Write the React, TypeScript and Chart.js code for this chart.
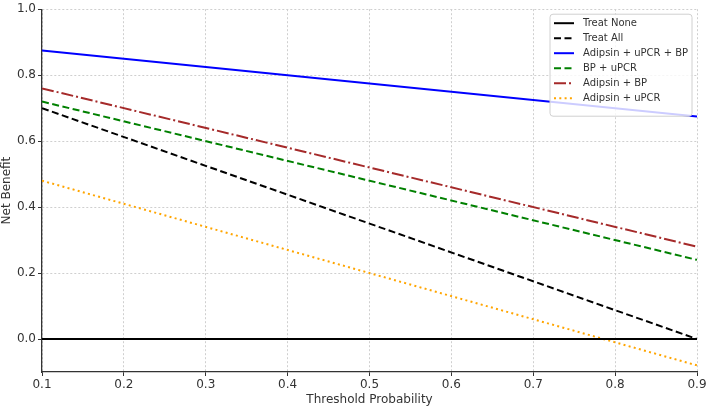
import React, { useEffect, useRef } from "react";
import { Chart, registerables } from "chart.js";

Chart.register(...registerables);

// Threshold probabilities at the ends of each decision curve
const thresholds = [0.1, 0.9];

// Net benefit of each strategy at those thresholds
const treatNone = [0.0, 0.0];
const treatAll = [0.7, 0.0];
const adipsinUpcrBp = [0.875, 0.675];
const bpUpcr = [0.72, 0.24];
const adipsinBp = [0.76, 0.28];
const adipsinUpcr = [0.48, -0.08];

const xTicks = [0.1, 0.2, 0.3, 0.4, 0.5, 0.6, 0.7, 0.8, 0.9];
const yTicks = [0.0, 0.2, 0.4, 0.6, 0.8, 1.0];

const FONT = "'DejaVu Sans', sans-serif";
const TEXT = "#333333";

const toPoints = (ys: number[]) => thresholds.map((x, i) => ({ x, y: ys[i] }));

// Legend drawn inside the plot area with line samples (dash patterns included)
const lineLegend = {
  id: "lineLegend",
  afterDatasetsDraw(chart: any) {
    const { ctx, chartArea } = chart;
    const sets = chart.data.datasets;
    const rowH = 15;
    const boxW = 142;
    const boxH = 8 + sets.length * rowH + 4;
    const bx = chartArea.right - 5 - boxW;
    const by = chartArea.top + 5;
    ctx.save();
    ctx.beginPath();
    const r = 3;
    ctx.moveTo(bx + r, by);
    ctx.arcTo(bx + boxW, by, bx + boxW, by + boxH, r);
    ctx.arcTo(bx + boxW, by + boxH, bx, by + boxH, r);
    ctx.arcTo(bx, by + boxH, bx, by, r);
    ctx.arcTo(bx, by, bx + boxW, by, r);
    ctx.closePath();
    ctx.fillStyle = "rgba(255,255,255,0.8)";
    ctx.fill();
    ctx.strokeStyle = "#d0d0d0";
    ctx.lineWidth = 1;
    ctx.stroke();

    ctx.font = `10px ${FONT}`;
    ctx.textBaseline = "middle";
    ctx.textAlign = "left";
    sets.forEach((ds: any, i: number) => {
      const cy = by + 9 + i * rowH;
      ctx.beginPath();
      ctx.setLineDash(ds.borderDash || []);
      ctx.strokeStyle = ds.borderColor;
      ctx.lineWidth = ds.borderWidth;
      ctx.moveTo(bx + 4, cy);
      ctx.lineTo(bx + 24, cy);
      ctx.stroke();
      ctx.setLineDash([]);
      ctx.fillStyle = TEXT;
      ctx.fillText(ds.label, bx + 33, cy);
    });
    ctx.restore();
  },
};

export default function App() {
  const canvasRef = useRef<HTMLCanvasElement | null>(null);

  useEffect(() => {
    const canvas = canvasRef.current;
    if (!canvas) return;

    const line = (label: string, ys: number[], color: string, dash: number[]) => ({
      label,
      data: toPoints(ys),
      borderColor: color,
      backgroundColor: color,
      borderWidth: 2,
      borderDash: dash,
      pointRadius: 0,
      fill: false,
      tension: 0,
    });

    const gridOpts = {
      color: "#cfcfcf",
      lineWidth: 1,
      tickLength: 4,
      tickColor: TEXT,
      tickBorderDash: [],
    };
    const borderOpts = { display: true, color: TEXT, width: 1.3, dash: [2, 2] };

    const chart = new Chart(canvas, {
      type: "line",
      data: {
        datasets: [
          line("Treat None", treatNone, "#000000", []),
          line("Treat All", treatAll, "#000000", [7, 3.5]),
          line("Adipsin + uPCR + BP", adipsinUpcrBp, "#0000ff", []),
          line("BP + uPCR", bpUpcr, "#008000", [7, 3.5]),
          line("Adipsin + BP", adipsinBp, "#a52a2a", [12, 3, 2, 3]),
          line("Adipsin + uPCR", adipsinUpcr, "#ffa500", [2, 3.3]),
        ],
      },
      options: {
        animation: false,
        responsive: false,
        maintainAspectRatio: false,
        layout: { padding: { top: 9, right: 12, left: 0, bottom: 0 } },
        plugins: {
          legend: { display: false },
          tooltip: { enabled: false },
        },
        scales: {
          x: {
            type: "linear",
            min: 0.1,
            max: 0.9,
            afterBuildTicks: (s: any) => {
              s.ticks = xTicks.map((v) => ({ value: v }));
            },
            afterFit: (s: any) => {
              s.height = 35;
            },
            ticks: {
              color: TEXT,
              font: { family: FONT, size: 12 },
              padding: 2,
              callback: (v: any) => Number(v).toFixed(1),
            },
            grid: gridOpts,
            border: borderOpts,
            title: {
              display: true,
              text: "Threshold Probability",
              color: TEXT,
              font: { family: FONT, size: 12 },
              padding: { top: 0, bottom: 0 },
            },
          },
          y: {
            type: "linear",
            min: -0.1,
            max: 1.0,
            afterBuildTicks: (s: any) => {
              s.ticks = yTicks.map((v) => ({ value: v }));
            },
            afterFit: (s: any) => {
              s.width = 42;
            },
            ticks: {
              color: TEXT,
              font: { family: FONT, size: 12 },
              padding: 2,
              callback: (v: any) => Number(v).toFixed(1),
            },
            grid: gridOpts,
            border: borderOpts,
            title: {
              display: true,
              text: "Net Benefit",
              color: TEXT,
              font: { family: FONT, size: 12 },
              padding: { top: 0, bottom: 2 },
            },
          },
        },
      },
      plugins: [lineLegend],
    });

    return () => chart.destroy();
  }, []);

  return (
    <div style={{ position: "fixed", left: 0, top: 0, width: 709, height: 407, background: "#fff" }}>
      <canvas ref={canvasRef} width={709} height={407} style={{ display: "block" }} />
    </div>
  );
}
